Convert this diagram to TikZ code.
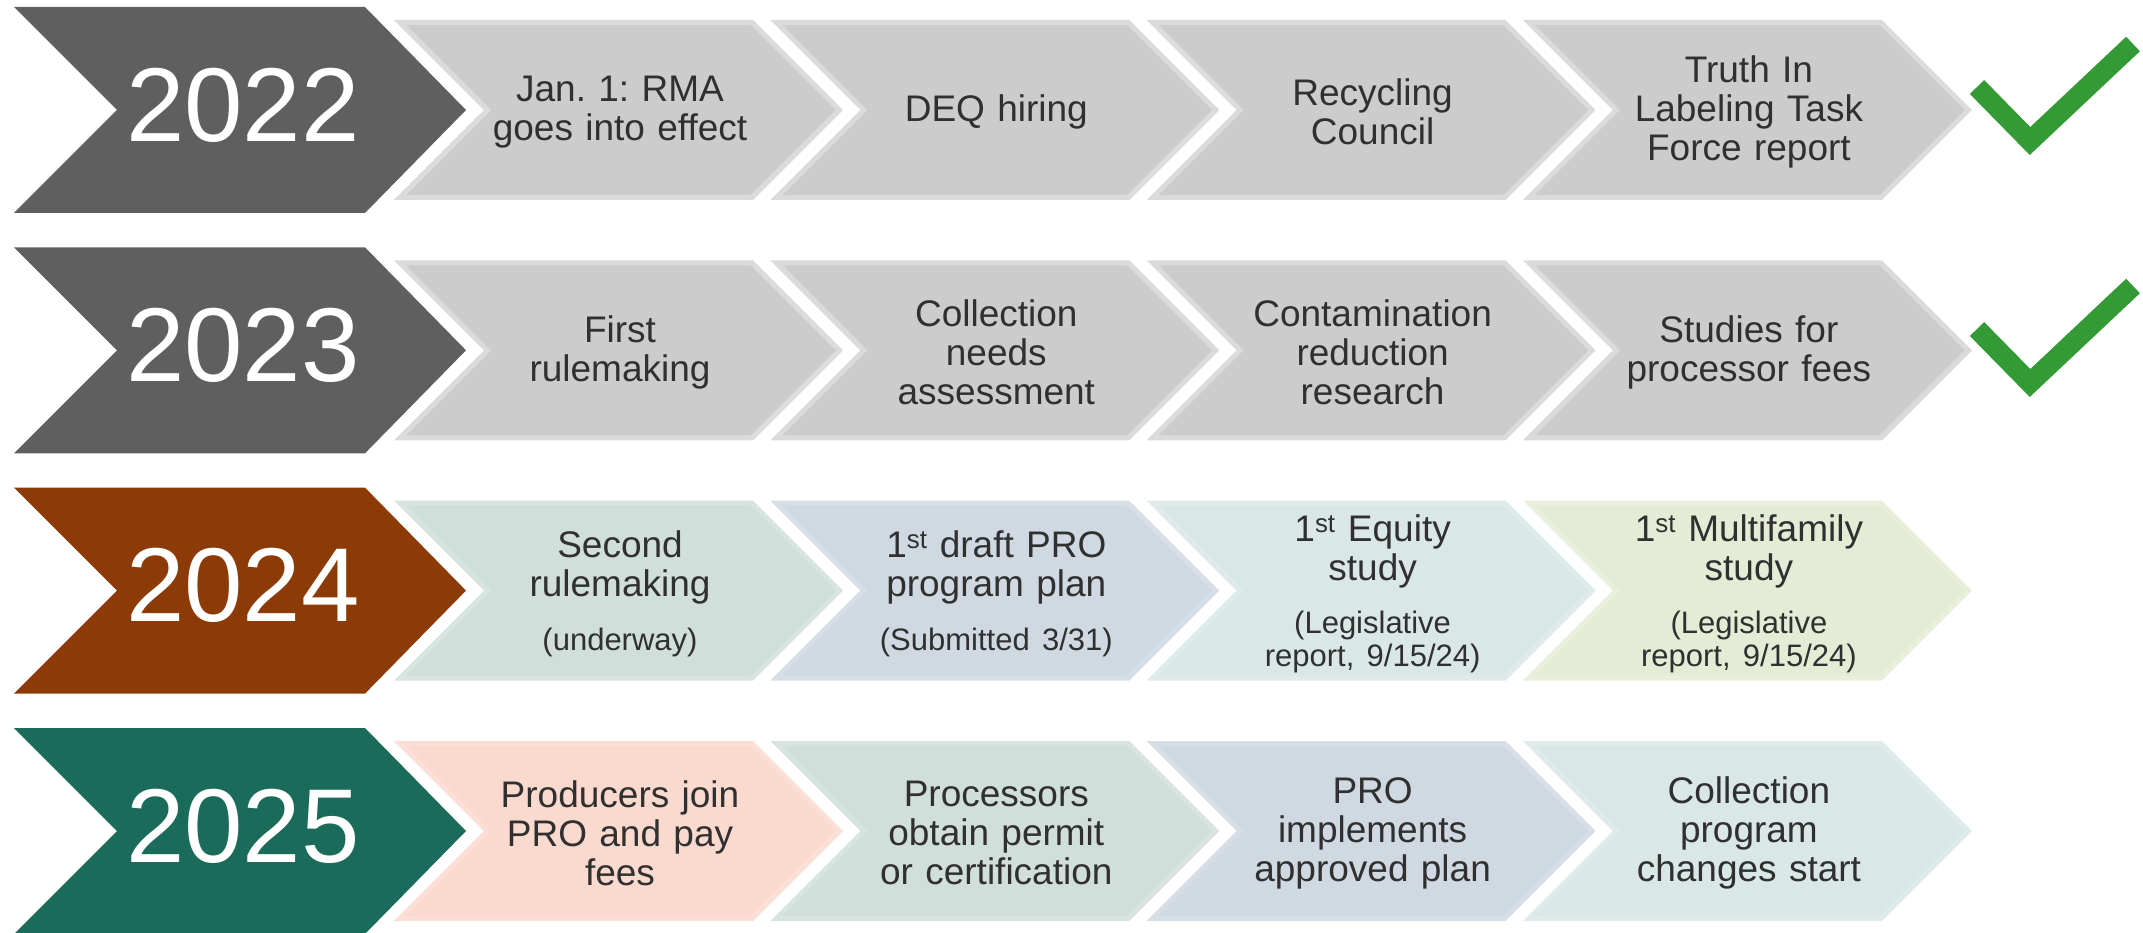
\documentclass[tikz,border=0pt]{standalone}
\usepackage{fontspec}
\setmainfont{Liberation Sans}
\frenchspacing
\definecolor{yeargray}{HTML}{5F5F5F}
\definecolor{yearbrown}{HTML}{8C3B07}
\definecolor{yeargreen}{HTML}{1B6B5A}
\definecolor{stepgray}{HTML}{CCCCCC}
\definecolor{stepsage}{HTML}{D1DFDA}
\definecolor{stepblue}{HTML}{D0D9E1}
\definecolor{stepaqua}{HTML}{D9E8E6}
\definecolor{steplime}{HTML}{E4ECD5}
\definecolor{steppeach}{HTML}{FAD9CF}
\definecolor{checkgreen}{HTML}{349A35}
\definecolor{txt}{HTML}{303030}
\newcommand\yearshape[2]{%
  \fill[#2] (14,#1-103) -- (365,#1-103) -- (466,#1) -- (365,#1+103) -- (14,#1+103) -- (117,#1) -- cycle;}
\newcommand\stepshape[4]{%
  \path[fill=#3, draw=#4, line width=5pt, line join=miter]
    (#1+3,#2-87.5) -- (#1+355,#2-87.5) -- (#1+442.5,#2) -- (#1+355,#2+87.5) -- (#1+3,#2+87.5) -- (#1+90.5,#2) -- cycle;}
\newcommand\subtxt{\fontsize{31}{32.5}\selectfont}
\tikzset{
  steptext/.style={text=txt, align=center, text width=340pt, font=\fontsize{37}{39}\selectfont\frenchspacing, inner sep=0pt},
  yeartext/.style={text=white, font=\fontsize{105}{105}\selectfont, inner sep=0pt},
  checkmark/.style={draw=checkgreen, line width=20pt, line join=miter, line cap=butt},
}
\begin{document}
\begin{tikzpicture}[x=1pt,y=-1pt]
\useasboundingbox (0,0) rectangle (2143,933);
% ---------- row 1: 2022
\yearshape{110}{yeargray}
\stepshape{397}{110}{stepgray}{stepgray!70!white}
\stepshape{773.3}{110}{stepgray}{stepgray!70!white}
\stepshape{1149.6}{110}{stepgray}{stepgray!70!white}
\stepshape{1525.9}{110}{stepgray}{stepgray!70!white}
\node[yeartext] (y2022) at (243,105) {2022};
\node[steptext] (r1s1) at (620,112) {Jan. 1: RMA\\goes into effect};
\node[steptext] (r1s2) at (996.3,112) {DEQ hiring};
\node[steptext] (r1s3) at (1372.6,112) {Recycling\\Council};
\node[steptext] (r1s4) at (1748.9,112) {Truth In\\Labeling Task\\Force report};
\draw[checkmark] (1977,87) -- (2030,141) -- (2133,44);
% ---------- row 2: 2023
\yearshape{350.3}{yeargray}
\stepshape{397}{350.3}{stepgray}{stepgray!70!white}
\stepshape{773.3}{350.3}{stepgray}{stepgray!70!white}
\stepshape{1149.6}{350.3}{stepgray}{stepgray!70!white}
\stepshape{1525.9}{350.3}{stepgray}{stepgray!70!white}
\node[yeartext] (y2023) at (243,345.3) {2023};
\node[steptext] (r2s1) at (620,352.3) {First\\rulemaking};
\node[steptext] (r2s2) at (996.3,352.3) {Collection\\needs\\assessment};
\node[steptext] (r2s3) at (1372.6,352.3) {Contamination\\reduction\\research};
\node[steptext] (r2s4) at (1748.9,352.3) {Studies for\\processor fees};
\draw[checkmark] (1977,329) -- (2030,383) -- (2133,286);
% ---------- row 3: 2024
\yearshape{590.6}{yearbrown}
\stepshape{397}{590.6}{stepsage}{stepsage!85!white}
\stepshape{773.3}{590.6}{stepblue}{stepblue!85!white}
\stepshape{1149.6}{590.6}{stepaqua}{stepaqua!85!white}
\stepshape{1525.9}{590.6}{steplime}{steplime!85!white}
\node[yeartext] (y2024) at (243,585.6) {2024};
\node[steptext] (r3s1) at (620,593.6) {Second\\rulemaking\par\vspace{21pt}{\subtxt (underway)\par}};
\node[steptext] (r3s2) at (996.3,593.6) {1\textsuperscript{st} draft PRO\\program plan\par\vspace{21pt}{\subtxt (Submitted 3/31)\par}};
\node[steptext] (r3s3) at (1372.6,593.6) {1\textsuperscript{st} Equity\\study\par\vspace{21pt}{\subtxt (Legislative\\report, 9/15/24)\par}};
\node[steptext] (r3s4) at (1748.9,593.6) {1\textsuperscript{st} Multifamily\\study\par\vspace{21pt}{\subtxt (Legislative\\report, 9/15/24)\par}};
% ---------- row 4: 2025
\yearshape{831}{yeargreen}
\stepshape{397}{831}{steppeach}{steppeach!85!white}
\stepshape{773.3}{831}{stepsage}{stepsage!85!white}
\stepshape{1149.6}{831}{stepblue}{stepblue!85!white}
\stepshape{1525.9}{831}{stepaqua}{stepaqua!85!white}
\node[yeartext] (y2025) at (243,826) {2025};
\node[steptext] (r4s1) at (620,833) {Producers join\\PRO and pay\\fees};
\node[steptext] (r4s2) at (996.3,833) {Processors\\obtain permit\\or certification};
\node[steptext] (r4s3) at (1372.6,833) {PRO\\implements\\approved plan};
\node[steptext] (r4s4) at (1748.9,833) {Collection\\program\\changes start};
\end{tikzpicture}
\end{document}
